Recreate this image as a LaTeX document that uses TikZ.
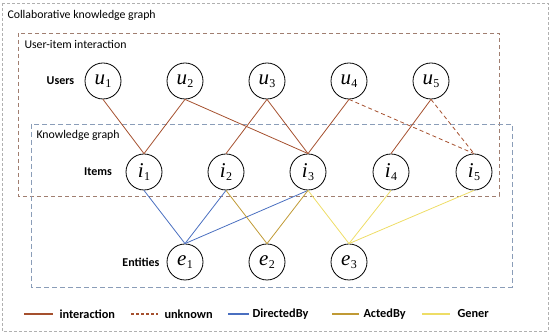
\documentclass[tikz,border=0pt]{standalone}
\usepackage{fontspec}
\setmainfont{Carlito}
\newfontfamily\tmsfont{Liberation Serif}
\newcommand{\nlab}[2]{{\tmsfont\fontsize{21}{21}\selectfont\itshape #1}\kern0.3pt{\tmsfont\fontsize{12}{12}\selectfont\raisebox{-3.5pt}{#2}}}
\begin{document}
\begin{tikzpicture}[x=1pt,y=-1pt,
  nd/.style={circle,draw=black,line width=0.8pt,minimum size=36pt,inner sep=0pt},
  lbl/.style={font=\bfseries\fontsize{12}{14}\selectfont},
  leg/.style={anchor=west,font=\bfseries\fontsize{12.3}{14}\selectfont},
  boxlbl/.style={anchor=west,font=\fontsize{11.8}{14}\selectfont},
  inter/.style={draw=intercol,line width=0.8pt},
  unk/.style={draw=intercol,line width=0.8pt,dash pattern=on 4pt off 3pt},
  dirb/.style={draw=dircol,line width=0.8pt},
  actb/.style={draw=actcol,line width=0.8pt},
  genb/.style={draw=gencol,line width=0.8pt}]
\definecolor{intercol}{HTML}{A5502E}
\definecolor{dircol}{HTML}{4A6FC0}
\definecolor{actcol}{HTML}{C09A35}
\definecolor{gencol}{HTML}{EEDD66}
\definecolor{outercol}{HTML}{B0B0B0}
\definecolor{uicol}{HTML}{A07E70}
\definecolor{kgcol}{HTML}{8A9DB8}
\useasboundingbox (0,0) rectangle (550,336);
% boxes
\draw[outercol,line width=0.7pt,dash pattern=on 3pt off 2pt] (2,3) rectangle (548,331);
\draw[uicol,line width=0.8pt,dash pattern=on 4pt off 3pt] (18,33) rectangle (499,196);
\draw[kgcol,line width=0.8pt,dash pattern=on 5pt off 3pt] (31,124) rectangle (512,287);
\node[boxlbl] (tcol) at (4,15) {Collaborative knowledge graph};
\node[boxlbl] (tui) at (21,44) {User-item interaction};
\node[boxlbl] (tkg) at (33,135) {Knowledge graph};
% row labels
\node[lbl] (lu) at (60.5,81) {Users};
\node[lbl] (li) at (98,172) {Items};
\node[lbl] (le) at (141,262) {Entities};
% nodes
\node[nd] (u1) at (103,81) {\nlab{u}{1}};
\node[nd] (u2) at (185,81) {\nlab{u}{2}};
\node[nd] (u3) at (267,81) {\nlab{u}{3}};
\node[nd] (u4) at (349,81) {\nlab{u}{4}};
\node[nd] (u5) at (431,81) {\nlab{u}{5}};
\node[nd] (i1) at (144,172) {\nlab{i}{1}};
\node[nd] (i2) at (226,172) {\nlab{i}{2}};
\node[nd] (i3) at (308,172) {\nlab{i}{3}};
\node[nd] (i4) at (391,172) {\nlab{i}{4}};
\node[nd] (i5) at (474,172) {\nlab{i}{5}};
\node[nd] (e1) at (185,262) {\nlab{e}{1}};
\node[nd] (e2) at (267,262) {\nlab{e}{2}};
\node[nd] (e3) at (349,262) {\nlab{e}{3}};
% interaction edges
\draw[inter] (u1.south) -- (i1.north);
\draw[inter] (u2.south) -- (i1.north);
\draw[inter] (u2.south) -- (i3.north);
\draw[inter] (u3.south) -- (i2.north);
\draw[inter] (u3.south) -- (i3.north);
\draw[inter] (u4.south) -- (i3.north);
\draw[inter] (u5.south) -- (i4.north);
\draw[unk] (u4.south) -- (i5.north);
\draw[unk] (u5.south) -- (i5.north);
% knowledge edges
\draw[dirb] (i1.south) -- (e1.north);
\draw[dirb] (i2.south) -- (e1.north);
\draw[dirb] (i3.south) -- (e1.north);
\draw[actb] (i2.south) -- (e2.north);
\draw[actb] (i3.south) -- (e2.north);
\draw[genb] (i3.south) -- (e3.north);
\draw[genb] (i4.south) -- (e3.north);
\draw[genb] (i5.south) -- (e3.north);
% legend
\coordinate (la1) at (24,314); \coordinate (la2) at (53,314);
\draw[inter,line width=1.3pt] (la1) -- (la2);
\node[leg] (ta) at (56,314) {interaction};
\coordinate (lb1) at (131,314); \coordinate (lb2) at (158,314);
\draw[unk,line width=1.3pt,dash pattern=on 3pt off 2pt] (lb1) -- (lb2);
\node[leg] (tb) at (161,314) {unknown};
\coordinate (lc1) at (228,314); \coordinate (lc2) at (249,314);
\draw[dirb,line width=1.3pt] (lc1) -- (lc2);
\node[leg] (tc) at (249,314) {DirectedBy};
\coordinate (ld1) at (332,314); \coordinate (ld2) at (359,314);
\draw[actb,line width=1.3pt] (ld1) -- (ld2);
\node[leg] (td) at (360,314) {ActedBy};
\coordinate (le1) at (422,314); \coordinate (le2) at (450,314);
\draw[genb,line width=1.3pt] (le1) -- (le2);
\node[leg] (te) at (454,314) {Gener};
\end{tikzpicture}
\end{document}
